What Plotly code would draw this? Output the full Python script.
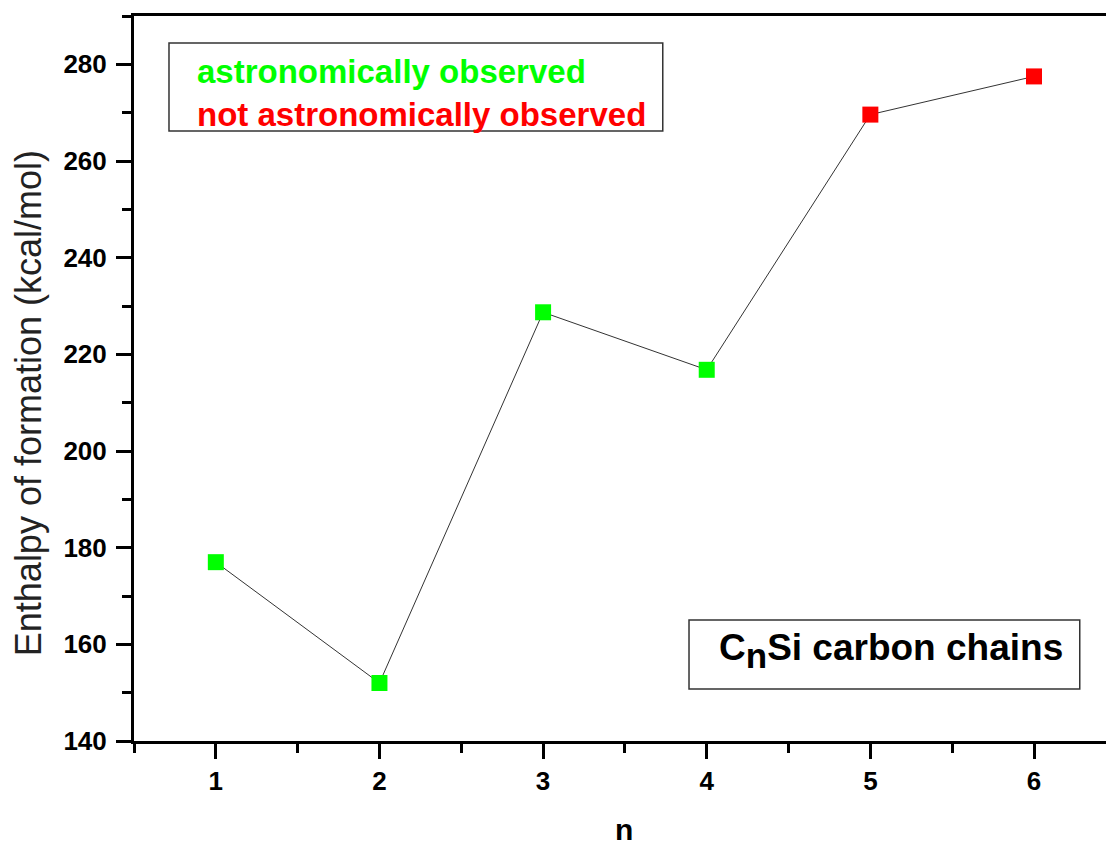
import plotly.graph_objects as go

n_values = [1, 2, 3, 4, 5, 6]
enthalpy = [177.0, 152.0, 228.7, 216.8, 269.6, 277.5]
observed = [True, True, True, True, False, False]
legend_labels = ["astronomically observed", "not astronomically observed"]
y_ticks = [140, 160, 180, 200, 220, 240, 260, 280]

GREEN = "#00ff00"
RED = "#ff0000"
FONT = "Liberation Sans, Arial, sans-serif"

colors = [GREEN if o else RED for o in observed]

fig = go.Figure()
fig.add_trace(go.Scatter(
    x=n_values, y=enthalpy, mode="lines",
    line=dict(color="#333333", width=1), showlegend=False, hoverinfo="skip"))
fig.add_trace(go.Scatter(
    x=n_values, y=enthalpy, mode="markers",
    marker=dict(symbol="square", size=16, color=colors, line=dict(width=0)),
    showlegend=False))

axis_common = dict(
    showgrid=False, zeroline=False, showline=True, linecolor="black", linewidth=3,
    ticks="outside", ticklen=15, tickwidth=3, tickcolor="black", automargin=False,
    tickfont=dict(family=FONT, size=26, color="black", weight="bold"),
)

fig.update_layout(
    width=1106, height=846,
    margin=dict(l=134, r=0, t=16, b=105, autoexpand=False),
    paper_bgcolor="white", plot_bgcolor="white",
    font=dict(family=FONT),
    xaxis=dict(
        range=[0.5, 6.44], tickmode="array", tickvals=n_values,
        ticktext=[str(v) for v in n_values], mirror=True,
        minor=dict(ticks="outside", ticklen=9, tickwidth=3, tickcolor="black", dtick=0.5, tick0=0.5),
        ticklabelstandoff=0,
        **axis_common),
    yaxis=dict(
        range=[140, 290], tickmode="array", tickvals=y_ticks,
        ticktext=[str(v) for v in y_ticks],
        minor=dict(ticks="outside", ticklen=9, tickwidth=3, tickcolor="black", dtick=10, tick0=140),
        ticklabelstandoff=4,
        **axis_common),
)

# x axis title
fig.add_annotation(xref="paper", yref="paper", x=0.504, y=-0.122, xanchor="center", yanchor="middle",
                   text="<b>n</b>", showarrow=False,
                   font=dict(family=FONT, size=30, color="black"))

# y axis title (placed slightly below plot centre as in the reference)
fig.add_annotation(xref="paper", yref="paper", x=-0.109, y=0.466, xanchor="center", yanchor="middle",
                   text="Enthalpy of formation (kcal/mol)", textangle=-90, showarrow=False,
                   font=dict(family=FONT, size=36, color="#222222"))

# legend box
fig.add_shape(type="rect", xref="paper", yref="paper", x0=0.036, x1=0.544, y0=0.8414, y1=0.9628,
              line=dict(color="#333333", width=1.5), fillcolor="white")
fig.add_annotation(xref="paper", yref="paper", x=0.0628, y=0.9228, xanchor="left", yanchor="middle",
                   text="<b>%s</b>" % legend_labels[0], showarrow=False,
                   font=dict(family=FONT, size=33, color=GREEN))
fig.add_annotation(xref="paper", yref="paper", x=0.0628, y=0.8648, xanchor="left", yanchor="middle",
                   text="<b>%s</b>" % legend_labels[1], showarrow=False,
                   font=dict(family=FONT, size=33, color=RED))

# label box
fig.add_shape(type="rect", xref="paper", yref="paper", x0=0.571, x1=0.973, y0=0.0717, y1=0.1669,
              line=dict(color="#333333", width=1.5), fillcolor="white")
fig.add_annotation(xref="paper", yref="paper", x=0.6, y=0.124, xanchor="left", yanchor="middle",
                   text="<b>C<sub><span style=\"font-size:35px\">n</span></sub>Si carbon chains</b>",
                   showarrow=False,
                   font=dict(family=FONT, size=37, color="black"))

fig.write_html("out.html", config={"displayModeBar": False},
               post_script="document.body.style.margin='0';document.body.style.overflow='hidden';")
